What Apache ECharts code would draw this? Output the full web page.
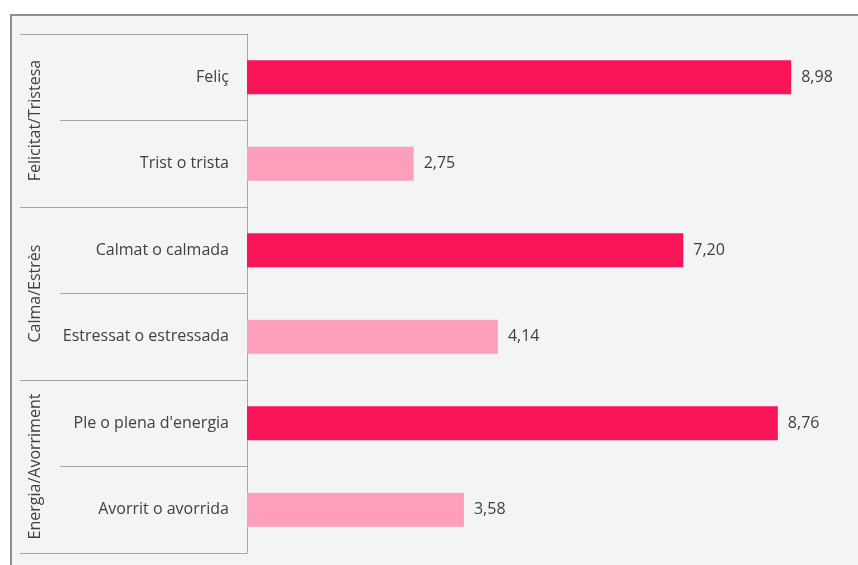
<!DOCTYPE html>
<html>
<head>
<meta charset="utf-8">
<script src="https://cdn.jsdelivr.net/npm/echarts@6/dist/echarts.min.js"></script>
<style>
body{margin:0;background:#fff;}
#bg{position:absolute;left:10px;top:14px;width:848px;height:551px;background:#f3f4f6;border-top:2px solid #8f8f8f;border-left:2px solid #8f8f8f;box-sizing:border-box;}
#main{position:absolute;left:0;top:0;width:858px;height:565px;}
</style>
</head>
<body>
<div id="bg"></div>
<div id="main"></div>
<script>
// categories and values
var items = ['Feliç', 'Trist o trista', 'Calmat o calmada', 'Estressat o estressada', "Ple o plena d'energia", 'Avorrit o avorrida'];
var groups = ['Felicitat/Tristesa', 'Calma/Estrès', 'Energia/Avorriment'];
var values = [8.98, 2.75, 7.20, 4.14, 8.76, 3.58];

var dark = '#f81557';
var light = '#fd9fba';

var myChart = echarts.init(document.getElementById('main'));
var option = {
    animation: false,
    textStyle: { fontFamily: 'Open Sans, sans-serif' },
    grid: { left: 247, right: 5, top: 34, bottom: 12 },
    xAxis: { type: 'value', min: 0, max: 10, show: false },
    yAxis: [
        {
            type: 'category',
            data: items,
            inverse: true,
            position: 'left',
            axisLine: { show: true, lineStyle: { color: '#a6a6a6', width: 1 } },
            axisTick: { show: true, interval: 0, length: 187, lineStyle: { color: '#a6a6a6' } },
            axisLabel: { color: '#404040', fontSize: 16, margin: 18, interval: 0 }
        },
        {
            type: 'category',
            data: groups,
            inverse: true,
            position: 'left',
            axisLine: { show: false },
            axisTick: { show: true, interval: 0, length: 227, lineStyle: { color: '#a6a6a6' } },
            axisLabel: { color: '#404040', fontSize: 16, rotate: 90, margin: 204, interval: 0, hideOverlap: false }
        }
    ],
    series: [
        {
            type: 'bar',
            yAxisIndex: 0,
            barWidth: 34,
            data: values,
            itemStyle: {
                color: function (p) { return p.dataIndex % 2 ? light : dark; }
            },
            label: {
                show: true,
                position: 'right',
                distance: 10,
                color: '#404040',
                fontSize: 16,
                formatter: function (p) { return p.value.toFixed(2).replace('.', ','); }
            }
        }
    ]
};
myChart.setOption(option);
</script>
</body>
</html>
